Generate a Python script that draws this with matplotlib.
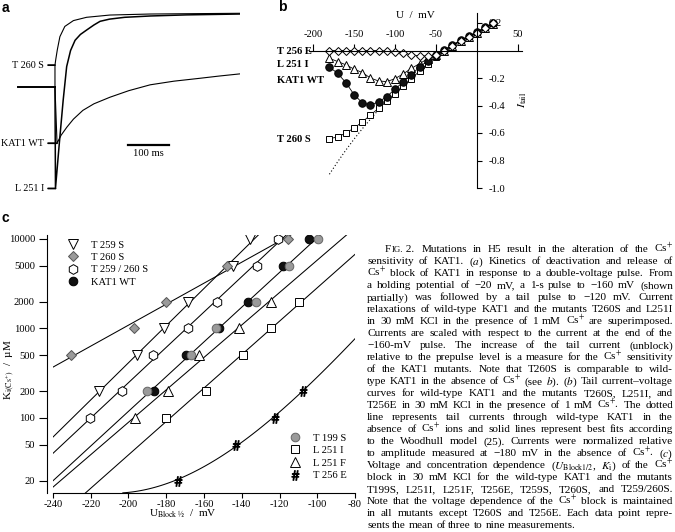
import matplotlib
matplotlib.use("Agg")
import matplotlib.pyplot as plt
from matplotlib.ticker import NullLocator
import numpy as np

plt.rcParams["font.family"] = ["Liberation Serif", "DejaVu Serif"]
plt.rcParams["mathtext.fontset"] = "stix"
plt.rcParams["axes.unicode_minus"] = False
plt.rcParams["lines.markeredgewidth"] = 0.7

W, H, DPI = 675, 532, 100
FS = 7.6
CAP_FS = 8.1

# ---------------------------------------------------------------------------
# Panel a: tail current relaxations (ms after tail step, normalised current)
# ---------------------------------------------------------------------------
PRE_T = [-90, 0]
PRE_I = [-1.0, -1.0]
A_T260S_T = [0, 0, 2, 5.7, 12, 24, 45, 77, 134, 232, 451]
A_T260S_I = [-1.0, -0.70, -0.62, -0.49, -0.31, -0.17, -0.09, -0.045, -0.014, 0.0, 0.01]
A_WT_T = [0, 5, 15, 29, 45, 68, 95, 134, 180, 232, 290, 354, 400, 451]
A_WT_I = [-1.0, -1.77, -1.66, -1.55, -1.44, -1.32, -1.23, -1.14, -1.05, -0.97,
          -0.92, -0.88, -0.85, -0.82]
A_L251I_T = [0, 1.2, 10.6, 20, 28.5, 38, 49, 62, 77, 95, 110, 133, 170, 232, 320, 451]
A_L251I_I = [-1.0, -2.39, -1.77, -1.18, -0.72, -0.50, -0.36, -0.28, -0.22, -0.15,
             -0.10, -0.07, -0.045, -0.027, -0.012, 0.0]
SCALE_MS = 100

# ---------------------------------------------------------------------------
# Panel b: tail current-voltage curves
# ---------------------------------------------------------------------------
B_U = [-180, -170, -160, -150, -140, -130, -120, -110, -100, -90, -80,
       -70, -60, -50, -40, -30, -20, -10, 0, 10, 20]
B_T260S = [-0.64, -0.63, -0.60, -0.565, -0.52, -0.47, -0.42, -0.37, -0.315, -0.26,
           -0.205, -0.15, -0.095, -0.045, 0.0, 0.035, 0.07, 0.10, 0.13, 0.165, 0.195]
B_WT = [-0.12, -0.166, -0.233, -0.32, -0.38, -0.397, -0.373, -0.336, -0.28, -0.23,
        -0.175, -0.12, -0.075, -0.03, 0.005, 0.04, 0.075, 0.105, 0.135, 0.17, 0.20]
B_L251I = [-0.057, -0.08, -0.104, -0.135, -0.16, -0.20, -0.222, -0.226, -0.205, -0.17,
           -0.13, -0.095, -0.06, -0.03, 0.0, 0.035, 0.07, 0.10, 0.13, 0.165, 0.195]
B_T256E = [0.0, 0.0, 0.0, 0.0, 0.0, 0.0, 0.0, -0.005, -0.012, -0.02, -0.03,
           -0.04, -0.04, -0.03, 0.0, 0.035, 0.07, 0.10, 0.13, 0.165, 0.20]
DOT_U = [-180, -170, -160, -150, -140, -130, -120]
DOT_I = [-0.90, -0.81, -0.725, -0.645, -0.57, -0.50, -0.43]
B_XTICKS = [-200, -150, -100, -50, 50]
B_YTICKS = [0.2, -0.2, -0.4, -0.6, -0.8, -1.0]

# ---------------------------------------------------------------------------
# Panel c: U_Block1/2 vs Ki
# ---------------------------------------------------------------------------
C_T259S_U = [-215.6, -195.7, -181.0, -168.3, -144.8, -135.6]
C_T259S_K = [200, 500, 1000, 2000, 5000, 10000]
C_T260S_U = [-230.5, -196.9, -180.1, -148.0, -115.3]
C_T260S_K = [500, 1000, 2000, 5000, 10000]
C_HEX_U = [-220.4, -203.3, -187.2, -168.3, -153.2, -131.8, -121.0]
C_HEX_K = [100, 200, 500, 1000, 2000, 5000, 10000]
C_WT_U = [-186.3, -169.7, -152.0, -136.5, -118.0, -104.2]
C_WT_K = [200, 500, 1000, 2000, 5000, 10000]
C_T199S_U = [-190.0, -167.0, -153.6, -132.5, -114.8, -99.4]
C_T199S_K = [200, 500, 1000, 2000, 5000, 10000]
C_L251I_U = [-180.3, -159.0, -139.2, -124.7, -109.5]
C_L251I_K = [100, 200, 500, 1000, 2000]
C_L251F_U = [-196.6, -179.3, -162.6, -141.3, -124.7]
C_L251F_K = [100, 200, 500, 1000, 2000]
C_T256E_U = [-173.6, -143.0, -122.4, -107.7]
C_T256E_K = [20, 50, 100, 200]
# curved fit for T256E
C_T256E_FIT_U = [-203, -190, -174, -160, -143, -122, -108, -95, -80]
C_T256E_FIT_K = [14.5, 16.2, 20, 29, 50, 100, 200, 380, 753]
C_XTICKS = [-240, -220, -200, -180, -160, -140, -120, -100, -80]
C_YTICKS = [20, 50, 100, 200, 500, 1000, 2000, 5000, 10000]

CAPTION = [
    "sensitivity of KAT1. ($a$) Kinetics of deactivation and release of",
    "Cs$^{+}$ block of KAT1 in response to a double-voltage pulse. From",
    "a holding potential of \u221220 mV, a 1-s pulse to \u2212160 mV (shown",
    "partially) was followed by a tail pulse to \u2212120 mV. Current",
    "relaxations of wild-type KAT1 and the mutants T260S and L251I",
    "in 30 mM KCl in the presence of 1 mM Cs$^{+}$ are superimposed.",
    "Currents are scaled with respect to the current at the end of the",
    "\u2212160-mV pulse. The increase of the tail current (unblock)",
    "relative to the prepulse level is a measure for the Cs$^{+}$ sensitivity",
    "of the KAT1 mutants. Note that T260S is comparable to wild-",
    "type KAT1 in the absence of Cs$^{+}$ (see $b$). ($b$) Tail current\u2013voltage",
    "curves for wild-type KAT1 and the mutants T260S, L251I, and",
    "T256E in 30 mM KCl in the presence of 1 mM Cs$^{+}$. The dotted",
    "line represents tail currents through wild-type KAT1 in the",
    "absence of Cs$^{+}$ ions and solid lines represent best fits according",
    "to the Woodhull model (25). Currents were normalized relative",
    "to amplitude measured at \u2212180 mV in the absence of Cs$^{+}$. ($c$)",
    "Voltage and concentration dependence ($U_{\\mathrm{Block1/2}}$, $K_{\\mathrm{i}}$) of the Cs$^{+}$",
    "block in 30 mM KCl for the wild-type KAT1 and the mutants",
    "T199S, L251I, L251F, T256E, T259S, T260S, and T259/260S.",
    "Note that the voltage dependence of the Cs$^{+}$ block is maintained",
    "in all mutants except T260S and T256E. Each data point repre-",
    "sents the mean of three to nine measurements.",
]
CAPTION_FIRST = "Mutations in H5 result in the alteration of the Cs$^{+}$"


def px_box(x0, y0, x1, y1):
    return [x0 / W, 1 - y1 / H, (x1 - x0) / W, (y1 - y0) / H]


fig = plt.figure(figsize=(W / DPI, H / DPI), dpi=DPI)

# --- panel a ---------------------------------------------------------------
axa = fig.add_axes(px_box(0, 0, 240, 200))
axa.set_xlim(-134, 451)
axa.set_ylim(-2.548, 0.192)
axa.axis("off")
axa.plot(PRE_T, PRE_I, color="k", lw=1.4)
axa.plot(A_T260S_T, A_T260S_I, color="k", lw=0.8)
axa.plot(A_WT_T, A_WT_I, color="k", lw=0.8)
axa.plot(A_L251I_T, A_L251I_I, color="k", lw=1.1)
for name, tt, ii in [("T 260 S", A_T260S_T, A_T260S_I),
                     ("KAT1 WT", A_WT_T, A_WT_I),
                     ("L 251 I", A_L251I_T, A_L251I_I)]:
    axa.annotate(name, xy=(tt[1], ii[1]), xytext=(-27, ii[1]), ha="right",
                 va="center", fontsize=7.3,
                 arrowprops=dict(arrowstyle="-", lw=1.3, shrinkA=1.0, shrinkB=0))
axa.plot([178, 178 + SCALE_MS], [-1.79, -1.79], color="k", lw=1.6)
axa.text(178 + SCALE_MS / 2, -1.91, f"{SCALE_MS} ms", ha="center", va="center",
         fontsize=FS)

# --- panel b ---------------------------------------------------------------
axb = fig.add_axes(px_box(300, 5, 540, 195))
axb.set_xlim((300 - 477) / 0.82, (540 - 477) / 0.82)
axb.set_ylim((50.5 - 195) / 137.5, (50.5 - 5) / 137.5)
axb.patch.set_alpha(0)
axb.spines["left"].set_visible(False)
axb.spines["bottom"].set_visible(False)
axb.spines["top"].set_position(("data", 0))
axb.spines["right"].set_position(("data", 0))
axb.spines["top"].set_bounds(-205, 55)
axb.spines["right"].set_bounds(-1.0, 0.27)
for s in ("top", "right"):
    axb.spines[s].set_linewidth(0.8)
axb.xaxis.set_ticks_position("top")
axb.yaxis.set_ticks_position("right")
axb.set_xticks(B_XTICKS)
axb.set_xticklabels([f"{v:d}" for v in B_XTICKS])
axb.set_yticks(B_YTICKS)
axb.set_yticklabels([f"{v:.1f}" for v in B_YTICKS])
axb.tick_params(axis="x", direction="out", length=5, width=0.8, pad=3.5, labelsize=FS)
axb.tick_params(axis="y", direction="out", length=3.6, width=0.8, pad=5, labelsize=FS)

axb.plot(DOT_U, DOT_I, color="k", lw=0.8, ls=(0, (1, 2)))
axb.plot(B_U, B_T260S, color="k", lw=0.6, marker="s", ms=5, mfc="white", mec="k")
axb.plot(B_U, B_L251I, color="k", lw=0.6, marker="^", ms=5.6, mfc="white", mec="k")
axb.plot(B_U, B_WT, color="k", lw=0.6, marker="o", ms=5.4, mfc="#111111", mec="k")
axb.plot(B_U, B_T256E, color="k", lw=0.6, marker="D", ms=4.1, mfc="white", mec="k")

for name, yv in [("T 256 E", -0.01), ("L 251 I", -0.105),
                 ("KAT1 WT", -0.215), ("T 260 S", -0.645)]:
    axb.text(-244, yv, name, ha="left", va="center", fontsize=FS, fontweight="bold")
axb.text((415 - 300) / 240, (195 - 16) / 190, "U  /  mV", transform=axb.transAxes,
         ha="center", va="center", fontsize=8)
axb.text((523 - 300) / 240, 0.5, r"$I_{\mathrm{tail}}$", transform=axb.transAxes,
         ha="center", va="center", rotation=90, fontsize=8.5)

# --- panel c ---------------------------------------------------------------
axc = fig.add_axes(px_box(53, 235, 355, 493))
axc.set_yscale("log")
axc.set_xlim(-240, -80)
axc.set_ylim(14.5, 11070)

u_line = np.linspace(-240, -80, 60)
for us, ks in [(C_T260S_U, C_T260S_K), (C_T259S_U, C_T259S_K), (C_HEX_U, C_HEX_K),
               (C_WT_U + C_T199S_U, C_WT_K + C_T199S_K), (C_L251F_U, C_L251F_K),
               (C_L251I_U, C_L251I_K)]:
    p = np.polyfit(us, np.log10(ks), 1)
    axc.plot(u_line, 10 ** np.polyval(p, u_line), color="k", lw=0.75)
p3 = np.polyfit(C_T256E_FIT_U, np.log10(C_T256E_FIT_K), 3)
u_fit = np.linspace(C_T256E_FIT_U[0], C_T256E_FIT_U[-1], 80)
axc.plot(u_fit, 10 ** np.polyval(p3, u_fit), color="k", lw=0.75)

GRAY = "#9a9a9a"
h259 = axc.plot(C_T259S_U, C_T259S_K, ls="none", marker="v", ms=7, mfc="white",
                mec="k", label="T 259 S")[0]
h260 = axc.plot(C_T260S_U, C_T260S_K, ls="none", marker="D", ms=4.8, mfc=GRAY,
                mec="#555555", label="T 260 S")[0]
hhex = axc.plot(C_HEX_U, C_HEX_K, ls="none", marker="h", ms=7, mfc="white",
                mec="k", label="T 259 / 260 S")[0]
hwt = axc.plot(C_WT_U, C_WT_K, ls="none", marker="o", ms=6.2, mfc="#111111",
               mec="k", label="KAT1 WT")[0]
h199 = axc.plot(C_T199S_U, C_T199S_K, ls="none", marker="o", ms=6.2, mfc=GRAY,
                mec="#666666", label="T 199 S")[0]
hl1 = axc.plot(C_L251I_U, C_L251I_K, ls="none", marker="s", ms=6, mfc="white",
               mec="k", label="L 251 I")[0]
hlf = axc.plot(C_L251F_U, C_L251F_K, ls="none", marker="^", ms=7, mfc="white",
               mec="k", label="L 251 F")[0]
h256 = axc.plot(C_T256E_U, C_T256E_K, ls="none", marker=r"$\#$", ms=7, color="k",
                mec="k", label="T 256 E")[0]

leg1 = axc.legend(handles=[h259, h260, hhex, hwt], loc="upper left",
                  bbox_to_anchor=(0.049, 0.98), frameon=False, fontsize=FS,
                  handlelength=1.0, handletextpad=1.2, labelspacing=0.28,
                  borderpad=0, borderaxespad=0)
axc.add_artist(leg1)
axc.legend(handles=[h199, hl1, hlf, h256], loc="upper left",
           bbox_to_anchor=(0.784, 0.232), frameon=False, fontsize=FS,
           handlelength=1.0, handletextpad=1.2, labelspacing=0.3,
           borderpad=0, borderaxespad=0)

axc.spines["top"].set_visible(False)
axc.spines["right"].set_visible(False)
axc.spines["left"].set_position(("outward", 4))
for s in ("left", "bottom"):
    axc.spines[s].set_linewidth(0.8)
axc.set_yticks(C_YTICKS)
axc.set_yticklabels([str(v) for v in C_YTICKS])
axc.yaxis.set_minor_locator(NullLocator())
axc.set_xticks(C_XTICKS)
axc.set_xticklabels([f"{v:d}" for v in C_XTICKS])
axc.tick_params(axis="y", direction="out", length=6, width=0.8, pad=3, labelsize=FS)
axc.tick_params(axis="x", direction="out", length=3.6, width=0.8, pad=1.5, labelsize=FS)
axc.set_ylabel(r"K$_{\mathrm{i(Cs^{+})}}$  /  µM", fontsize=8)
axc.yaxis.set_label_coords((17 - 53) / 302, 0.477)
axc.set_xlabel(r"U$_{\mathrm{Block\ ½}}$  /  mV", fontsize=8)
axc.xaxis.set_label_coords((183 - 53) / 302, -(508 - 493) / 258)

# --- panel letters ---------------------------------------------------------
for letter, x, y in [("a", 2, 12), ("b", 278, 11), ("c", 2, 222)]:
    fig.text(x / W, 1 - y / H, letter, fontsize=10, fontweight="bold",
             family=["Liberation Sans", "DejaVu Sans"])

# --- caption (justified) ---------------------------------------------------
CAP_X0, CAP_X1 = 367, 673
CAP_Y0, CAP_DY = 249, 12.0
renderer = fig.canvas.get_renderer()


def place_words(words, x_start, y_base, justify):
    size = CAP_FS
    arts = [fig.text(0, 0, w, fontsize=size, va="baseline", ha="left") for w in words]
    widths = [a.get_window_extent(renderer).width for a in arts]
    min_gap = 1.8
    room = CAP_X1 - x_start - (len(arts) - 1) * min_gap
    if sum(widths) > room:
        size = CAP_FS * room / sum(widths)
        for a in arts:
            a.set_fontsize(size)
        widths = [a.get_window_extent(renderer).width for a in arts]
    gap = size * DPI / 72 * 0.25
    if justify and len(arts) > 1:
        gap = (CAP_X1 - x_start - sum(widths)) / (len(arts) - 1)
    x = x_start
    for a, w in zip(arts, widths):
        a.set_position((x / W, 1 - y_base / H))
        x += w + gap


base = CAP_Y0 + 3.3
x = 385
for piece, size in [("F", CAP_FS), ("IG.", CAP_FS * 0.78), ("\u00a02.", CAP_FS)]:
    t = fig.text(x / W, 1 - base / H, piece, fontsize=size, va="baseline")
    x += t.get_window_extent(renderer).width
place_words(CAPTION_FIRST.split(" "), x + 8, base, True)
for k, line in enumerate(CAPTION):
    place_words(line.split(" "), CAP_X0, base + (k + 1) * CAP_DY,
                k < len(CAPTION) - 1)

fig.savefig("out.png", dpi=DPI)
